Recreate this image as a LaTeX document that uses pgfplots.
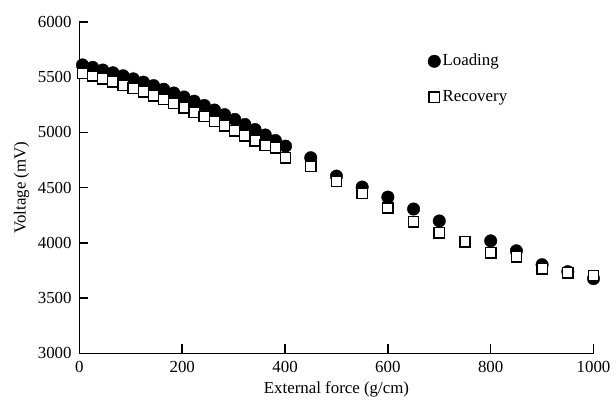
\documentclass[border=0pt]{standalone}
\usepackage{fontspec}
\setmainfont{Liberation Serif}
\usepackage{pgfplots}
\pgfplotsset{compat=1.18}

\begin{document}
\fontsize{17}{19}\selectfont
\begin{tikzpicture}
\begin{axis}[
  width=518pt, height=334pt,
  scale only axis,
  axis line style={draw=none},
  xtick pos=bottom, ytick pos=left,
  major tick length=0pt,
  xmin=0, xmax=1000,
  ymin=3000, ymax=6000,
  xtick={0,200,...,1000},
  ytick={3000,3500,...,6000},
  /pgf/number format/assume math mode=true,
  /pgf/number format/1000 sep={},
  ticklabel style={font=\fontsize{17}{19}\selectfont},
  xticklabel style={yshift=-2pt},
  yticklabel style={xshift=-2pt},
  label style={font=\fontsize{17}{19}\selectfont},
  xlabel={External force (g/cm)},
  ylabel={Voltage (mV)},
  xlabel style={yshift=2pt},
  ylabel style={yshift=-3pt},
  clip=false,
  legend style={at={(0.672,0.915)}, anchor=north west, draw=none, fill=none,
    row sep=18pt, font=\fontsize{17}{19}\selectfont},
  legend cell align={left},
]
\draw[line width=1.3pt, black] (rel axis cs:0,1) -- (rel axis cs:0,0) -- (rel axis cs:1,0);
\pgfplotsinvokeforeach{200,400,600,800,1000}{
  \draw[line width=1.6pt, black] (axis cs:#1,3000) -- (axis cs:#1,3080);
}
\pgfplotsinvokeforeach{3500,4000,4500,5000,5500,6000}{
  \draw[line width=1.6pt, black] (axis cs:0,#1) -- (axis cs:16,#1);
}
\addplot[only marks, mark=*, mark size=6.3pt, black, mark options={fill=black}] coordinates {
  (6,5610) (25.75,5588) (45.5,5564) (65.25,5539) (85,5512) (104.75,5484)
  (124.5,5454) (144.25,5423) (164,5390) (183.75,5356) (203.5,5320)
  (223.25,5282) (243,5243) (262.75,5202) (282.5,5160) (302.25,5117)
  (322,5071) (341.75,5025) (361.5,4976) (381.25,4926) (401,4875)
  (450,4770) (500,4604) (550,4505) (600,4414) (650,4306) (700,4198)
  (800,4018) (850,3928) (900,3802) (950,3739) (1000,3676)
};
\addlegendentry{Loading}
\addplot[only marks, mark=square*, mark size=5.2pt, black,
  mark options={fill=white, line width=1.4pt}] coordinates {
  (6,5535) (25.75,5510) (45.5,5484) (65.25,5457) (85,5428) (104.75,5398)
  (124.5,5366) (144.25,5332) (164,5297) (183.75,5260) (203.5,5222)
  (223.25,5182) (243,5142) (262.75,5100) (282.5,5058) (302.25,5014)
  (322,4968) (341.75,4922) (361.5,4885) (381.25,4860) (401,4770)
  (450,4694) (500,4559) (550,4450) (600,4315) (650,4190) (700,4090)
  (750,4009) (800,3910) (850,3874) (900,3766) (950,3730) (1000,3703)
};
\addlegendentry{Recovery}
\end{axis}
\path ([yshift=22pt]current axis.north);
\path ([xshift=-80pt]current axis.west);
\end{tikzpicture}
\end{document}
